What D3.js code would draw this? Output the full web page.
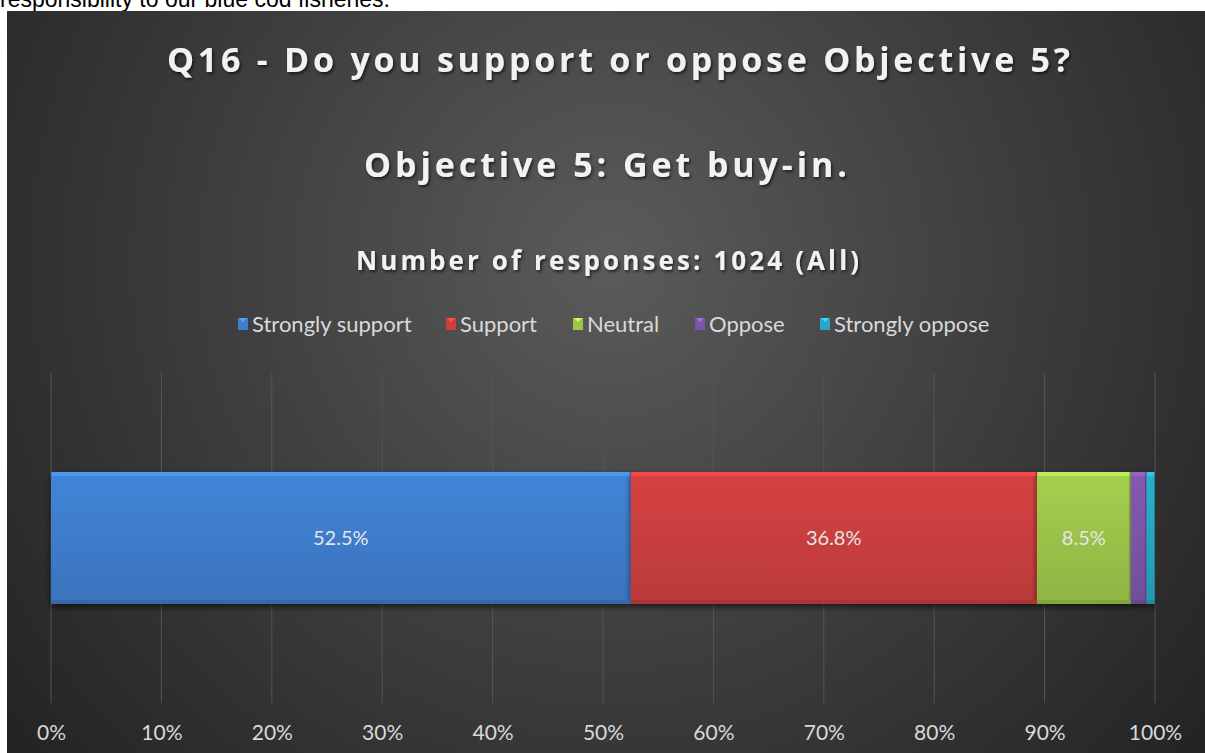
<!DOCTYPE html>
<html>
<head>
<meta charset="utf-8">
<script src="https://cdn.jsdelivr.net/npm/d3@7"></script>
<style>
  body { margin: 0; background: #ffffff; overflow: hidden; }
  svg { display: block; }
  text { font-variant-ligatures: none; }
</style>
</head>
<body>
<div id="my_dataviz"></div>
<script>
// chart data
var categories = ["Strongly support", "Support", "Neutral", "Oppose", "Strongly oppose"];
var values = [52.5, 36.8, 8.5, 1.4, 0.8];
var barColors = ["#3f7ecd", "#cb3f3f", "#9cc54a", "#7d55a8", "#29a6c1"];
var tickValues = [0, 10, 20, 30, 40, 50, 60, 70, 80, 90, 100];
var titleLines = ["Q16 - Do you support or oppose Objective 5?", "Objective 5: Get buy-in."];
var subtitle = "Number of responses: 1024 (All)";

var W = 1205, H = 753;

var svg = d3.select("#my_dataviz")
  .append("svg")
    .attr("width", W)
    .attr("height", H);

var defs = svg.append("defs");

// background radial gradient
var bg = defs.append("radialGradient")
    .attr("id", "bg")
    .attr("gradientUnits", "userSpaceOnUse")
    .attr("cx", 610).attr("cy", 260).attr("r", 760);
bg.append("stop").attr("offset", "0%").attr("stop-color", "#5b5b5b");
bg.append("stop").attr("offset", "55%").attr("stop-color", "#3c3c3c");
bg.append("stop").attr("offset", "100%").attr("stop-color", "#242424");

// text shadow
var ts = defs.append("filter").attr("id", "tshadow")
    .attr("x", "-5%").attr("y", "-30%").attr("width", "110%").attr("height", "160%");
ts.append("feDropShadow").attr("dx", 1.5).attr("dy", 2).attr("stdDeviation", 1.5)
    .attr("flood-color", "#000").attr("flood-opacity", 0.6);

// bar shadow
var bs = defs.append("filter").attr("id", "bshadow")
    .attr("x", "-5%").attr("y", "-10%").attr("width", "110%").attr("height", "130%");
bs.append("feDropShadow").attr("dx", 0).attr("dy", 3).attr("stdDeviation", 3)
    .attr("flood-color", "#000").attr("flood-opacity", 0.6);

// per-bar vertical gradients
barColors.forEach(function(c, i) {
  var g = defs.append("linearGradient").attr("id", "bar" + i)
      .attr("x1", 0).attr("y1", 0).attr("x2", 0).attr("y2", 1);
  g.append("stop").attr("offset", "0%").attr("stop-color", d3.color(c).brighter(0.15));
  g.append("stop").attr("offset", "100%").attr("stop-color", d3.color(c).darker(0.25));
});

// top line of page text, cut by the chart below it
svg.append("text")
    .attr("x", 0).attr("y", 7)
    .style("font-family", "Liberation Sans, Arial, sans-serif")
    .style("font-size", "23px")
    .style("fill", "#000")
    .text("responsibility to our blue cod fisheries.");

// chart area
svg.append("rect")
    .attr("x", 7).attr("y", 11)
    .attr("width", W - 7).attr("height", H - 11)
    .attr("fill", "url(#bg)");

// titles
var font = "Lato, 'Open Sans', sans-serif";
var titleFont = "'Open Sans', Lato, sans-serif";
svg.append("text")
    .attr("x", 167).attr("y", 72)
    .attr("textLength", 903).attr("lengthAdjust", "spacing")
    .style("font-family", titleFont).style("font-weight", "bold").style("font-size", "34px")
    .style("fill", "#f2f2f2").attr("filter", "url(#tshadow)")
    .text(titleLines[0]);
svg.append("text")
    .attr("x", 364).attr("y", 177)
    .attr("textLength", 483).attr("lengthAdjust", "spacing")
    .style("font-family", titleFont).style("font-weight", "bold").style("font-size", "34px")
    .style("fill", "#f2f2f2").attr("filter", "url(#tshadow)")
    .text(titleLines[1]);
svg.append("text")
    .attr("x", 356).attr("y", 270)
    .attr("textLength", 503).attr("lengthAdjust", "spacing")
    .style("font-family", titleFont).style("font-weight", "bold").style("font-size", "26px")
    .style("fill", "#f2f2f2").attr("filter", "url(#tshadow)")
    .text(subtitle);

// x scale
var x = d3.scaleLinear()
    .domain([0, 100])
    .range([51, 1155]);

// gridlines
svg.append("g")
  .selectAll("line")
  .data(tickValues)
  .enter()
  .append("line")
    .attr("x1", function(d) { return x(d); })
    .attr("x2", function(d) { return x(d); })
    .attr("y1", 373).attr("y2", 703)
    .attr("stroke", "#555555")
    .attr("stroke-width", 1);

// x axis labels
var xAxis = svg.append("g")
    .attr("transform", "translate(0,722)")
    .call(d3.axisBottom(x).tickValues(tickValues).tickSize(0).tickFormat(function(d) { return d + "%"; }));
xAxis.select(".domain").remove();
xAxis.selectAll("text")
    .style("font-family", font)
    .style("font-size", "21px")
    .style("fill", "#d9d9d9");

// stacked segments
var starts = [];
var acc = 0;
values.forEach(function(v) { starts.push(acc); acc += v; });
var segs = categories.map(function(c, i) {
  return {cat: c, value: values[i], start: starts[i], i: i};
});

var barTop = 472, barH = 132;

var bars = svg.append("g");
bars.selectAll("rect.seg")
  .data(segs)
  .enter()
  .append("rect")
    .attr("class", "seg")
    .attr("x", function(d) { return x(d.start); })
    .attr("y", barTop)
    .attr("width", function(d) { return x(d.start + d.value) - x(d.start); })
    .attr("height", barH)
    .attr("fill", function(d) { return "url(#bar" + d.i + ")"; })
    .attr("filter", "url(#bshadow)");

// bevel highlights
bars.selectAll("rect.hi")
  .data(segs)
  .enter()
  .append("rect")
    .attr("x", function(d) { return x(d.start) + 1; })
    .attr("y", barTop)
    .attr("width", function(d) { return Math.max(0, x(d.start + d.value) - x(d.start) - 2); })
    .attr("height", 4)
    .attr("fill", function(d) { return d3.color(barColors[d.i]).brighter(0.5); });
bars.selectAll("rect.lo")
  .data(segs)
  .enter()
  .append("rect")
    .attr("x", function(d) { return x(d.start); })
    .attr("y", barTop + barH - 4)
    .attr("width", function(d) { return x(d.start + d.value) - x(d.start); })
    .attr("height", 4)
    .attr("fill", function(d) { return d3.color(barColors[d.i]).darker(0.5); });
bars.selectAll("line.sep")
  .data(segs)
  .enter()
  .append("line")
    .attr("x1", function(d) { return x(d.start + d.value) - 0.5; })
    .attr("x2", function(d) { return x(d.start + d.value) - 0.5; })
    .attr("y1", barTop).attr("y2", barTop + barH)
    .attr("stroke", function(d) { return d3.color(barColors[d.i]).darker(0.7); })
    .attr("stroke-width", 1);

// data labels
bars.selectAll("text")
  .data(segs.filter(function(d) { return d.value > 5; }))
  .enter()
  .append("text")
    .attr("x", function(d) { return x(d.start + d.value / 2); })
    .attr("y", barTop + barH / 2 + 7)
    .attr("text-anchor", "middle")
    .style("font-family", font)
    .style("font-size", "20px")
    .style("fill", "#e6e6e6")
    .text(function(d) { return d.value.toFixed(1) + "%"; });

// legend
var legendX = [238, 446, 573, 695, 820];
var legend = svg.append("g");
var item = legend.selectAll("g")
  .data(categories)
  .enter()
  .append("g")
    .attr("transform", function(d, i) { return "translate(" + legendX[i] + ",324)"; });
item.append("rect")
    .attr("x", 0).attr("y", -6)
    .attr("width", 10).attr("height", 12)
    .attr("fill", function(d, i) { return barColors[i]; });
item.append("path")
    .attr("d", "M1,-6 L9,-6 L5,-2 Z")
    .attr("fill", function(d, i) { return d3.color(barColors[i]).brighter(0.8); });
item.append("text")
    .attr("x", 14).attr("y", 8)
    .style("font-family", font)
    .style("font-size", "22px")
    .style("fill", "#d9d9d9")
    .text(function(d) { return d; });
</script>
</body>
</html>
